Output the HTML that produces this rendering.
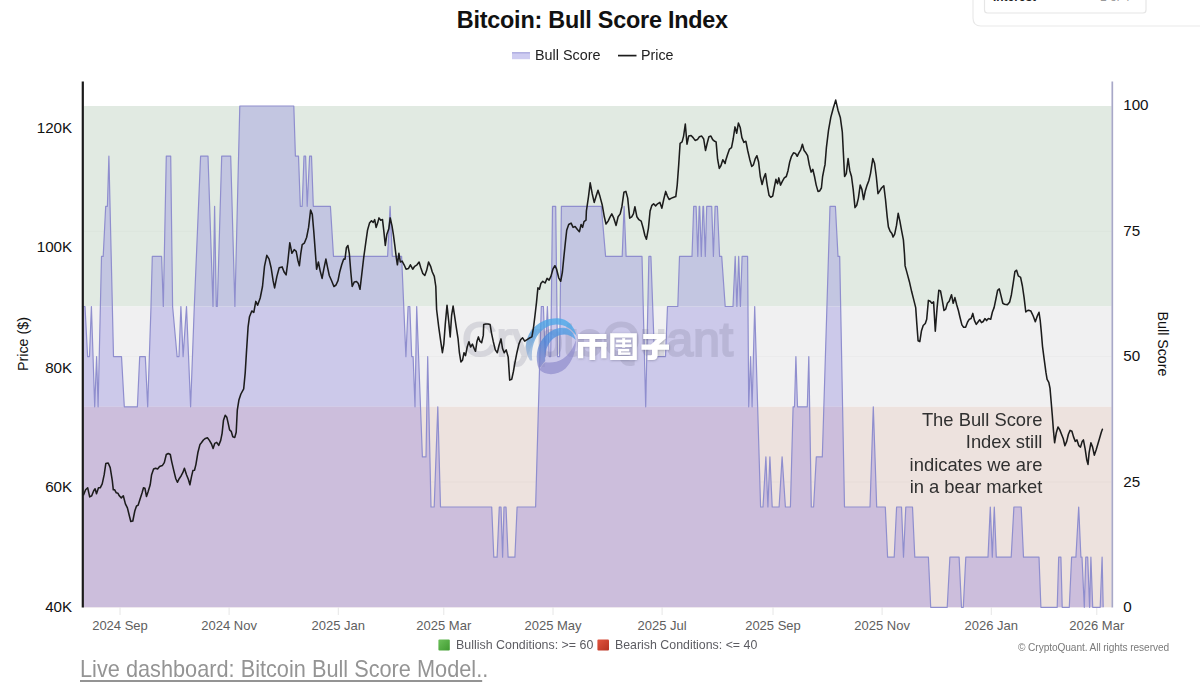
<!DOCTYPE html><html><head><meta charset="utf-8"><title>Bitcoin: Bull Score Index</title><style>
html,body{margin:0;padding:0;background:#fff;}
body{width:1200px;height:694px;position:relative;overflow:hidden;font-family:"Liberation Sans",sans-serif;}
.t{position:absolute;white-space:nowrap;line-height:1;color:#111;}
.yl{font-size:15.2px;text-align:right;width:60px;left:12.2px;}
.yr{font-size:15.2px;left:1123.2px;}
.xl{font-size:13px;color:#5e5e5e;transform:translateX(-50%);top:619.3px;}
</style></head><body>
<svg width="1200" height="694" viewBox="0 0 1200 694" style="position:absolute;left:0;top:0">
<path d="M973,0 V18 Q973,26 981,26 H1200" fill="none" stroke="#e9e9e9" stroke-width="1.2"/>
<path d="M984.5,0 V10 Q984.5,13 987.5,13 H1143 Q1146,13 1146,10 V0" fill="none" stroke="#e6e6e6" stroke-width="1.2"/>
<rect x="83.8" y="106.0" width="1027.8" height="200.5" fill="#e1eae2"/>
<rect x="83.8" y="306.5" width="1027.8" height="100.3" fill="#f0f0f1"/>
<rect x="83.8" y="406.8" width="1027.8" height="200.5" fill="#ede2de"/>
<line x1="83.8" x2="1111.6" y1="482.0" y2="482.0" stroke="#000" stroke-opacity="0.022" stroke-width="1"/>
<line x1="83.8" x2="1111.6" y1="356.6" y2="356.6" stroke="#000" stroke-opacity="0.022" stroke-width="1"/>
<line x1="83.8" x2="1111.6" y1="231.3" y2="231.3" stroke="#000" stroke-opacity="0.022" stroke-width="1"/>
<line x1="120" x2="120" y1="607.5" y2="615" stroke="#e6e6e6" stroke-width="1"/>
<line x1="229.1" x2="229.1" y1="607.5" y2="615" stroke="#e6e6e6" stroke-width="1"/>
<line x1="338.3" x2="338.3" y1="607.5" y2="615" stroke="#e6e6e6" stroke-width="1"/>
<line x1="443.8" x2="443.8" y1="607.5" y2="615" stroke="#e6e6e6" stroke-width="1"/>
<line x1="553" x2="553" y1="607.5" y2="615" stroke="#e6e6e6" stroke-width="1"/>
<line x1="662.1" x2="662.1" y1="607.5" y2="615" stroke="#e6e6e6" stroke-width="1"/>
<line x1="773" x2="773" y1="607.5" y2="615" stroke="#e6e6e6" stroke-width="1"/>
<line x1="882.1" x2="882.1" y1="607.5" y2="615" stroke="#e6e6e6" stroke-width="1"/>
<line x1="991.3" x2="991.3" y1="607.5" y2="615" stroke="#e6e6e6" stroke-width="1"/>
<line x1="1096.8" x2="1096.8" y1="607.5" y2="615" stroke="#e6e6e6" stroke-width="1"/>
<clipPath id="bc"><path d="M83.5,306.5 L85.0,306.5 L87.6,356.6 L89.5,356.6 L91.4,306.5 L94.7,406.8 L96.6,356.6 L98.1,406.8 L101.5,256.4 L103.2,256.4 L105.7,206.3 L107.4,206.3 L108.9,156.1 L113.5,356.6 L121.5,356.6 L124.3,406.8 L137.4,406.8 L139.7,356.6 L145.3,356.6 L147.7,406.8 L151.0,306.5 L152.3,256.4 L161.6,256.4 L163.3,306.5 L166.3,156.1 L170.7,156.1 L172.6,306.5 L177.1,356.6 L179.0,356.6 L180.9,306.5 L183.1,356.6 L186.5,306.5 L190.6,406.8 L194.3,306.5 L200.6,156.1 L208.0,156.1 L213.0,306.5 L214.6,206.3 L216.3,306.5 L217.3,306.5 L221.7,156.1 L230.7,156.1 L234.9,306.5 L239.8,106.0 L293.8,106.0 L295.4,156.1 L298.5,156.1 L300.3,206.3 L302.2,206.3 L304.0,156.1 L305.6,156.1 L307.2,206.3 L309.6,156.1 L311.5,156.1 L313.3,206.3 L330.4,206.3 L333.5,256.4 L387.6,256.4 L390.1,206.3 L392.3,256.4 L401.6,256.4 L405.9,356.6 L408.1,306.5 L409.8,306.5 L411.7,356.6 L413.1,356.6 L415.0,406.8 L416.7,306.5 L422.4,456.9 L426.0,456.9 L427.7,356.6 L431.0,507.0 L434.2,507.0 L437.8,406.8 L440.5,507.0 L491.7,507.0 L493.8,557.2 L497.1,557.2 L499.3,507.0 L501.0,507.0 L502.6,557.2 L504.0,507.0 L506.0,507.0 L508.1,557.2 L514.9,557.2 L517.1,507.0 L535.6,507.0 L541.3,306.5 L543.4,306.5 L545.2,356.6 L547.4,306.5 L549.2,356.6 L550.7,356.6 L552.5,206.3 L555.7,206.3 L557.5,356.6 L559.6,356.6 L561.4,206.3 L601.3,206.3 L605.6,256.4 L622.2,256.4 L624.1,206.3 L626.1,256.4 L642.0,256.4 L645.7,406.8 L648.9,256.4 L650.9,256.4 L654.5,356.6 L665.5,356.6 L667.5,306.5 L677.8,306.5 L679.5,256.4 L692.0,256.4 L693.7,206.3 L696.1,206.3 L697.8,256.4 L699.2,206.3 L699.7,206.3 L701.3,256.4 L703.0,206.3 L703.5,206.3 L705.3,256.4 L706.7,206.3 L711.7,206.3 L713.4,256.4 L715.1,206.3 L717.4,206.3 L719.6,256.4 L721.7,256.4 L725.2,306.5 L733.0,306.5 L735.2,256.4 L736.9,306.5 L738.7,256.4 L740.4,306.5 L742.1,256.4 L747.6,256.4 L748.7,406.8 L750.6,356.6 L752.1,406.8 L754.7,306.5 L760.6,507.0 L763.0,507.0 L765.9,456.9 L767.9,507.0 L769.9,456.9 L772.2,507.0 L779.1,507.0 L782.1,456.9 L785.4,507.0 L790.4,507.0 L793.1,406.8 L794.5,406.8 L795.9,356.6 L797.5,406.8 L807.3,406.8 L808.8,356.6 L811.3,507.0 L813.6,507.0 L816.3,456.9 L822.3,456.9 L830.0,206.3 L835.4,206.3 L838.0,256.4 L839.7,256.4 L844.5,507.0 L870.0,507.0 L873.3,406.8 L876.7,507.0 L885.3,507.0 L887.6,557.2 L894.2,557.2 L896.6,507.0 L901.5,507.0 L903.5,557.2 L905.8,507.0 L912.5,507.0 L914.8,557.2 L928.4,557.2 L930.7,607.3 L947.2,607.3 L949.9,557.2 L959.1,557.2 L961.5,607.3 L963.3,607.3 L965.8,557.2 L988.0,557.2 L990.3,507.0 L992.3,557.2 L994.3,507.0 L996.3,557.2 L1011.2,557.2 L1013.9,507.0 L1021.2,507.0 L1023.5,557.2 L1039.0,557.2 L1040.9,607.3 L1057.2,607.3 L1058.7,557.2 L1060.9,557.2 L1062.2,607.3 L1069.3,607.3 L1071.6,557.2 L1075.9,557.2 L1078.7,507.0 L1080.9,557.2 L1082.0,557.2 L1084.3,607.3 L1085.8,557.2 L1087.7,557.2 L1089.6,607.3 L1090.9,557.2 L1092.7,607.3 L1100.2,607.3 L1102.1,557.2 L1103.2,607.3 L1103.2,607.3 L83.5,607.3 Z"/></clipPath>
<g clip-path="url(#bc)">
<rect x="80" y="104.0" width="1040" height="202.5" fill="rgb(195,198,225)"/>
<rect x="80" y="306.5" width="1040" height="100.3" fill="rgb(204,201,234)"/>
<rect x="80" y="406.8" width="1040" height="201.5" fill="rgb(204,190,220)"/>
</g>
<path d="M83.5,306.5 L85.0,306.5 L87.6,356.6 L89.5,356.6 L91.4,306.5 L94.7,406.8 L96.6,356.6 L98.1,406.8 L101.5,256.4 L103.2,256.4 L105.7,206.3 L107.4,206.3 L108.9,156.1 L113.5,356.6 L121.5,356.6 L124.3,406.8 L137.4,406.8 L139.7,356.6 L145.3,356.6 L147.7,406.8 L151.0,306.5 L152.3,256.4 L161.6,256.4 L163.3,306.5 L166.3,156.1 L170.7,156.1 L172.6,306.5 L177.1,356.6 L179.0,356.6 L180.9,306.5 L183.1,356.6 L186.5,306.5 L190.6,406.8 L194.3,306.5 L200.6,156.1 L208.0,156.1 L213.0,306.5 L214.6,206.3 L216.3,306.5 L217.3,306.5 L221.7,156.1 L230.7,156.1 L234.9,306.5 L239.8,106.0 L293.8,106.0 L295.4,156.1 L298.5,156.1 L300.3,206.3 L302.2,206.3 L304.0,156.1 L305.6,156.1 L307.2,206.3 L309.6,156.1 L311.5,156.1 L313.3,206.3 L330.4,206.3 L333.5,256.4 L387.6,256.4 L390.1,206.3 L392.3,256.4 L401.6,256.4 L405.9,356.6 L408.1,306.5 L409.8,306.5 L411.7,356.6 L413.1,356.6 L415.0,406.8 L416.7,306.5 L422.4,456.9 L426.0,456.9 L427.7,356.6 L431.0,507.0 L434.2,507.0 L437.8,406.8 L440.5,507.0 L491.7,507.0 L493.8,557.2 L497.1,557.2 L499.3,507.0 L501.0,507.0 L502.6,557.2 L504.0,507.0 L506.0,507.0 L508.1,557.2 L514.9,557.2 L517.1,507.0 L535.6,507.0 L541.3,306.5 L543.4,306.5 L545.2,356.6 L547.4,306.5 L549.2,356.6 L550.7,356.6 L552.5,206.3 L555.7,206.3 L557.5,356.6 L559.6,356.6 L561.4,206.3 L601.3,206.3 L605.6,256.4 L622.2,256.4 L624.1,206.3 L626.1,256.4 L642.0,256.4 L645.7,406.8 L648.9,256.4 L650.9,256.4 L654.5,356.6 L665.5,356.6 L667.5,306.5 L677.8,306.5 L679.5,256.4 L692.0,256.4 L693.7,206.3 L696.1,206.3 L697.8,256.4 L699.2,206.3 L699.7,206.3 L701.3,256.4 L703.0,206.3 L703.5,206.3 L705.3,256.4 L706.7,206.3 L711.7,206.3 L713.4,256.4 L715.1,206.3 L717.4,206.3 L719.6,256.4 L721.7,256.4 L725.2,306.5 L733.0,306.5 L735.2,256.4 L736.9,306.5 L738.7,256.4 L740.4,306.5 L742.1,256.4 L747.6,256.4 L748.7,406.8 L750.6,356.6 L752.1,406.8 L754.7,306.5 L760.6,507.0 L763.0,507.0 L765.9,456.9 L767.9,507.0 L769.9,456.9 L772.2,507.0 L779.1,507.0 L782.1,456.9 L785.4,507.0 L790.4,507.0 L793.1,406.8 L794.5,406.8 L795.9,356.6 L797.5,406.8 L807.3,406.8 L808.8,356.6 L811.3,507.0 L813.6,507.0 L816.3,456.9 L822.3,456.9 L830.0,206.3 L835.4,206.3 L838.0,256.4 L839.7,256.4 L844.5,507.0 L870.0,507.0 L873.3,406.8 L876.7,507.0 L885.3,507.0 L887.6,557.2 L894.2,557.2 L896.6,507.0 L901.5,507.0 L903.5,557.2 L905.8,507.0 L912.5,507.0 L914.8,557.2 L928.4,557.2 L930.7,607.3 L947.2,607.3 L949.9,557.2 L959.1,557.2 L961.5,607.3 L963.3,607.3 L965.8,557.2 L988.0,557.2 L990.3,507.0 L992.3,557.2 L994.3,507.0 L996.3,557.2 L1011.2,557.2 L1013.9,507.0 L1021.2,507.0 L1023.5,557.2 L1039.0,557.2 L1040.9,607.3 L1057.2,607.3 L1058.7,557.2 L1060.9,557.2 L1062.2,607.3 L1069.3,607.3 L1071.6,557.2 L1075.9,557.2 L1078.7,507.0 L1080.9,557.2 L1082.0,557.2 L1084.3,607.3 L1085.8,557.2 L1087.7,557.2 L1089.6,607.3 L1090.9,557.2 L1092.7,607.3 L1100.2,607.3 L1102.1,557.2 L1103.2,607.3" fill="none" stroke="rgb(143,142,206)" stroke-width="1.2" stroke-linejoin="round"/>
<g opacity="0.17"><text x="462" y="356" font-family="Liberation Sans, sans-serif" font-size="48" fill="#5e5e78" stroke="#5e5e78" stroke-width="2.2" textLength="271" lengthAdjust="spacingAndGlyphs">CryptoQuant</text></g>
<defs>
<linearGradient id="g1" x1="0.8" y1="0" x2="0.1" y2="1"><stop offset="0" stop-color="#45a9ec"/><stop offset="0.55" stop-color="#4f9fe0"/><stop offset="1" stop-color="#8aa6d2" stop-opacity="0.75"/></linearGradient>
<linearGradient id="g2" x1="0.8" y1="0" x2="0.1" y2="1"><stop offset="0" stop-color="#4aa2ea"/><stop offset="0.5" stop-color="#4a86d8"/><stop offset="1" stop-color="#8c88cc"/></linearGradient>
</defs>
<g id="logo" opacity="0.82">
<path d="M530,360.5 C523.5,350 525.5,338 531,331 C538,321.5 548,318 558,318.3 C567.5,318.8 574.5,326 576.8,336.5 C572,329 565,324.5 556,324.6 C547,325 539,331 535,340 C532,347 531.3,354 532.3,360.5 Z" fill="url(#g1)" fill-opacity="0.93"/>
<path d="M539,369.5 C534.8,358 536.8,346 543,338.5 C549,331 557,327 564,327.8 C570.5,328.6 574.5,334 575.8,340 C571.5,335.2 566,333.4 560,335 C553,337 548,343 546,351 C545,355 545,358 545.3,361 C543,363 541,366.5 539,369.5 Z" fill="url(#g2)" fill-opacity="0.9"/>
<path d="M539.5,369.8 C545,375.6 557,376 565.5,368.5 C572.5,361.5 576.5,350 575.8,340 C573.5,348 569,354.5 563,358.8 C557,362.8 550,363 545.3,362.2 C543,364 541,367 539.5,369.8 Z" fill="#8e8bcb" fill-opacity="0.85"/>
</g>
<path d="M83.6,494.8 L85.6,489.8 L87.7,487.8 L89.7,496.9 L91.7,495.8 L93.7,490.8 L95.1,488.8 L96.5,493.8 L98.5,487.8 L100.2,487.8 L102.2,483.8 L104.2,474.7 L105.8,463.6 L108.2,463.0 L110.2,467.6 L112.3,480.7 L113.3,489.8 L114.7,489.8 L116.3,492.8 L117.9,493.2 L119.3,495.8 L121.3,497.9 L123.3,495.8 L125.4,503.9 L127.4,507.9 L129.4,516.0 L130.8,521.5 L132.8,521.0 L134.8,511.0 L136.5,505.9 L138.1,505.3 L140.1,498.9 L142.1,492.8 L143.5,487.8 L144.9,488.2 L146.5,496.5 L148.1,491.8 L150.2,484.8 L151.6,474.7 L153.6,469.0 L155.6,468.2 L157.6,469.0 L159.6,466.6 L162.3,465.6 L164.3,462.6 L166.3,454.5 L168.3,453.5 L170.3,454.5 L171.7,461.6 L173.8,470.6 L175.8,478.7 L177.4,482.3 L179.2,478.7 L181.2,475.7 L182.8,472.7 L184.4,468.2 L186.5,474.7 L188.5,479.7 L189.9,484.8 L191.5,476.7 L192.9,470.6 L194.5,470.2 L195.9,464.6 L197.9,452.5 L200.0,444.4 L201.4,442.8 L203.4,440.0 L205.4,438.4 L207.4,437.8 L209.4,440.4 L211.5,444.0 L213.1,448.5 L214.7,443.4 L216.7,442.4 L218.7,445.4 L220.7,440.4 L222.1,433.3 L223.5,420.2 L225.2,415.2 L226.8,417.2 L228.2,423.3 L229.6,429.9 L231.2,431.3 L232.8,436.8 L234.8,437.4 L236.2,432.3 L237.3,410.2 L238.9,400.1 L240.9,394.0 L243.7,388.8 L245.2,372.9 L246.6,349.9 L248.1,326.8 L249.5,316.7 L251.8,311.0 L253.8,312.4 L255.8,301.4 L257.6,305.2 L260.2,298.0 L262.5,286.5 L264.5,266.3 L266.8,255.3 L269.1,259.1 L271.1,267.7 L273.1,280.7 L274.6,287.9 L276.9,276.4 L279.2,267.7 L282.1,266.9 L284.1,272.0 L286.1,274.9 L287.8,262.0 L289.8,242.7 L291.9,253.3 L294.2,249.6 L296.2,251.3 L297.9,260.5 L299.4,265.7 L300.8,253.3 L302.2,244.7 L304.3,243.2 L306.6,237.5 L308.6,227.4 L310.6,210.1 L312.3,214.4 L313.8,231.7 L315.2,250.4 L316.6,269.2 L318.4,262.0 L320.1,270.6 L322.1,278.4 L323.8,269.2 L325.9,259.1 L327.6,267.7 L329.3,275.5 L331.6,280.7 L333.9,286.5 L336.0,285.0 L338.0,280.7 L339.7,272.0 L341.7,264.8 L343.7,259.1 L345.0,259.1 L346.4,247.6 L347.9,245.5 L349.3,253.3 L350.8,272.0 L352.2,286.5 L354.2,282.1 L356.5,281.6 L358.3,283.6 L360.0,289.3 L361.7,274.9 L363.7,257.6 L365.7,243.2 L367.5,230.3 L369.5,223.1 L371.5,220.7 L373.2,222.5 L374.7,219.6 L376.1,227.4 L377.6,223.1 L379.0,217.9 L380.7,220.2 L382.5,219.6 L383.9,231.7 L385.3,245.5 L386.8,234.6 L388.8,228.8 L390.2,217.9 L392.0,225.9 L393.4,234.6 L394.9,246.1 L396.3,257.6 L397.4,264.8 L398.9,253.3 L400.3,262.0 L402.1,261.1 L404.1,264.8 L406.1,269.2 L408.4,268.6 L410.4,264.8 L412.7,269.2 L414.7,266.3 L417.0,264.8 L419.1,262.0 L420.8,267.7 L422.8,273.5 L424.8,275.5 L426.6,270.6 L428.6,262.0 L430.6,266.3 L432.3,272.0 L434.3,276.4 L435.8,286.5 L436.6,309.5 L438.7,326.8 L440.7,341.2 L442.4,352.7 L443.8,344.1 L445.3,323.9 L447.0,305.2 L448.7,321.0 L450.2,336.9 L451.6,315.3 L453.1,306.1 L454.5,315.3 L456.2,326.8 L458.0,338.3 L459.4,352.7 L460.9,362.0 L462.6,359.9 L464.0,352.7 L465.5,355.6 L467.2,347.0 L468.9,341.8 L470.6,347.0 L472.4,344.1 L474.1,348.4 L475.5,351.3 L477.0,341.2 L478.4,336.9 L479.9,341.2 L481.6,342.7 L483.3,335.4 L483.7,324.5 L485.7,323.9 L488.1,323.9 L490.1,324.5 L491.5,333.1 L493.2,341.2 L495.3,349.9 L497.3,352.7 L499.0,345.5 L501.0,338.9 L502.5,348.4 L504.2,352.7 L506.2,349.9 L508.2,357.1 L509.7,380.1 L511.7,379.3 L513.4,371.5 L514.9,362.8 L516.9,352.7 L518.9,344.1 L520.6,339.8 L522.6,337.8 L524.7,341.2 L526.7,339.8 L529.0,338.3 L531.9,336.9 L533.6,326.8 L535.0,315.3 L536.5,302.3 L537.9,287.9 L539.4,289.3 L540.8,283.6 L542.8,281.3 L545.1,283.0 L547.1,278.4 L549.1,280.1 L550.9,276.4 L552.9,269.2 L554.9,265.7 L556.6,269.2 L558.7,277.8 L560.7,281.3 L562.4,272.0 L563.8,257.6 L565.3,243.2 L566.7,230.3 L568.7,224.5 L571.1,223.1 L573.1,227.4 L575.1,226.5 L577.4,229.4 L579.4,231.7 L581.1,224.5 L582.6,227.4 L584.0,221.6 L586.0,220.2 L586.4,211.0 L588.5,196.6 L590.2,182.8 L592.2,193.7 L594.2,202.4 L596.0,196.6 L598.0,190.3 L600.0,196.6 L602.3,205.3 L604.3,216.8 L606.0,224.0 L608.1,221.1 L610.1,216.8 L611.8,213.9 L613.8,218.2 L616.1,225.4 L618.1,216.8 L620.2,213.9 L621.9,206.7 L623.9,192.3 L625.9,191.4 L627.7,198.1 L629.7,218.2 L631.7,216.8 L633.4,213.9 L634.9,206.7 L636.9,216.8 L638.9,219.7 L641.2,221.1 L643.2,228.3 L644.9,235.5 L646.4,239.3 L648.4,228.3 L650.1,211.0 L651.9,205.3 L653.6,203.8 L655.6,205.9 L657.6,203.8 L659.9,202.4 L661.9,208.2 L663.7,199.5 L665.7,191.4 L667.4,196.1 L669.1,199.5 L671.5,198.1 L673.8,197.2 L675.8,196.6 L677.2,185.1 L678.7,164.9 L680.1,143.3 L682.1,141.9 L683.6,136.1 L685.3,124.0 L687.0,144.2 L688.7,136.1 L691.1,135.5 L693.1,137.6 L695.1,140.4 L697.4,139.6 L699.4,136.7 L701.7,136.1 L703.7,139.0 L705.5,150.5 L707.2,143.3 L708.9,136.7 L710.9,136.1 L712.7,139.6 L714.7,141.3 L716.1,141.9 L717.6,159.2 L719.3,168.4 L721.0,165.5 L722.8,159.7 L725.1,163.5 L725.7,160.6 L727.5,154.8 L729.5,149.1 L731.5,147.6 L733.2,139.0 L735.0,126.9 L736.7,133.2 L738.4,123.1 L740.2,127.5 L741.9,137.6 L743.9,142.4 L745.9,141.3 L747.7,150.5 L749.7,159.2 L751.7,166.4 L753.4,164.9 L755.1,159.2 L756.9,155.7 L758.6,162.0 L760.3,176.5 L762.1,184.5 L763.8,177.9 L765.5,173.6 L767.2,185.1 L769.0,195.2 L770.7,197.2 L772.7,196.1 L774.2,188.0 L775.9,179.3 L777.6,183.7 L778.8,177.9 L780.5,185.1 L782.2,181.6 L784.3,177.9 L786.3,176.5 L788.0,170.7 L789.7,162.0 L791.5,156.3 L793.5,152.8 L795.5,153.4 L797.2,156.3 L798.9,152.8 L800.7,149.9 L802.4,144.2 L804.1,150.5 L805.9,152.8 L807.6,155.7 L809.3,164.9 L811.1,172.1 L812.8,169.3 L814.5,176.5 L816.2,185.1 L818.0,191.4 L819.7,190.9 L821.4,188.0 L822.6,176.5 L824.3,167.8 L825.0,164.9 L826.4,147.6 L828.5,130.3 L830.8,117.4 L833.1,108.7 L835.7,100.1 L838.0,110.2 L840.3,117.4 L842.3,131.8 L843.4,153.4 L844.6,176.5 L846.3,173.6 L848.1,158.6 L849.8,170.7 L851.5,176.5 L853.2,189.4 L855.0,207.6 L856.7,205.3 L858.4,198.1 L860.2,185.1 L861.9,189.4 L863.6,199.5 L865.3,190.9 L867.1,185.1 L868.8,180.8 L870.5,173.6 L872.8,158.6 L874.6,163.5 L876.3,176.5 L878.0,193.7 L879.8,190.9 L881.5,188.0 L883.8,185.7 L885.5,199.5 L887.2,216.8 L888.4,226.9 L890.1,231.2 L891.9,233.5 L893.0,237.0 L894.7,234.1 L896.5,225.4 L898.2,213.3 L899.9,221.1 L901.7,231.2 L903.4,239.9 L904.5,254.3 L905.1,265.9 L907.1,273.1 L909.4,281.7 L911.7,291.8 L913.7,299.6 L915.7,307.6 L916.9,324.9 L918.1,340.8 L919.8,341.6 L921.5,330.7 L923.2,325.5 L925.3,323.5 L926.7,319.2 L928.4,300.4 L930.2,301.3 L931.9,303.3 L933.6,301.9 L935.3,331.3 L937.1,307.6 L938.8,290.3 L940.5,290.9 L942.3,300.4 L944.0,310.5 L945.7,309.1 L947.4,303.3 L949.2,301.3 L951.5,294.7 L953.2,303.3 L954.9,297.6 L956.7,304.8 L958.4,310.5 L960.1,317.7 L961.9,324.9 L963.6,327.2 L965.6,327.2 L967.6,322.0 L969.4,319.2 L971.1,318.6 L972.8,313.4 L974.5,320.6 L976.3,324.4 L978.0,322.0 L979.7,319.7 L981.5,322.6 L983.2,321.5 L984.9,318.6 L986.6,320.6 L988.4,318.6 L990.7,319.2 L992.4,312.0 L994.1,307.6 L995.9,299.0 L997.6,290.3 L999.3,288.9 L1001.1,296.1 L1002.8,303.3 L1004.5,304.2 L1007.4,304.8 L1009.7,301.9 L1011.4,294.7 L1013.2,283.1 L1014.9,271.6 L1016.6,270.2 L1018.3,275.9 L1020.6,277.4 L1022.4,286.0 L1024.1,297.6 L1025.8,312.0 L1027.6,310.5 L1028.6,310.3 L1030.9,311.1 L1033.2,316.0 L1035.3,321.8 L1037.3,316.0 L1039.0,312.3 L1040.2,320.3 L1041.3,331.9 L1042.5,346.3 L1044.2,359.3 L1045.9,372.2 L1047.1,379.4 L1048.8,382.3 L1050.0,388.1 L1051.1,401.0 L1052.3,415.4 L1053.4,429.9 L1054.6,442.8 L1056.3,432.7 L1058.0,427.0 L1059.8,429.9 L1061.5,434.2 L1063.2,438.5 L1064.9,445.7 L1066.7,441.4 L1068.4,434.2 L1070.1,430.4 L1071.9,431.3 L1073.6,437.1 L1075.3,441.4 L1077.0,439.9 L1078.8,445.7 L1080.5,447.1 L1082.2,441.4 L1083.4,439.9 L1085.1,448.6 L1086.8,460.1 L1088.0,464.4 L1089.1,452.9 L1090.9,442.8 L1092.6,447.1 L1094.3,455.2 L1096.1,450.0 L1097.8,444.3 L1099.5,438.5 L1101.3,432.2 L1102.4,429.3" fill="none" stroke="#1c1c1c" stroke-width="1.55" stroke-linejoin="round" stroke-linecap="round"/>
<line x1="82.8" x2="82.8" y1="81.5" y2="607.5" stroke="#1a1a1a" stroke-width="2.2"/>
<line x1="1112.3" x2="1112.3" y1="81.5" y2="607.5" stroke="#a8a8c8" stroke-width="1.7"/>
<defs><filter id="sh" x="-10%" y="-20%" width="120%" height="140%"><feDropShadow dx="0.4" dy="0.6" stdDeviation="0.9" flood-color="#555570" flood-opacity="0.45"/></filter></defs>
<g id="cjk" fill="#ffffff" stroke="none" filter="url(#sh)">
<rect x="578" y="334" width="28.4" height="5"/>
<rect x="578" y="342" width="5.2" height="16.2"/>
<rect x="578" y="342" width="28.4" height="4.8"/>
<rect x="601.2" y="342" width="5.2" height="16.2"/>
<rect x="589.5" y="334" width="5.6" height="26"/>
<path d="M610.2,333.3 H636.8 V360 H610.2 Z M614.4,337.4 V355.9 H632.6 V337.4 Z" fill-rule="evenodd"/>
<rect x="616.2" y="339.8" width="14.8" height="2.6"/>
<rect x="615.6" y="344.4" width="16" height="2.6"/>
<rect x="618.2" y="349" width="11" height="2.4"/>
<rect x="618.2" y="349" width="2.8" height="5.6"/>
<rect x="618.2" y="352.4" width="12.2" height="2.4"/>
<rect x="622.2" y="338.2" width="2.9" height="9.4"/>
<path d="M643.2,334 H665.6 V338.6 L658.6,344.6 H669 V349.8 H657.6 V355 Q657.6,360 652.4,360 H647.6 V355.2 H651 Q652,355.2 652,354.2 V349.8 H641.5 V344.6 H651 L657.2,339 H643.2 Z"/>
</g>
<rect x="512" y="52.8" width="18" height="6.4" fill="rgb(147,142,224)" fill-opacity="0.45"/>
<line x1="512" x2="530" y1="52.8" y2="52.8" stroke="rgb(150,148,214)" stroke-width="1"/>
<line x1="618" x2="636.5" y1="55.6" y2="55.6" stroke="#1c1c1c" stroke-width="1.7"/>
<linearGradient id="gg" x1="0" y1="0" x2="1" y2="1"><stop offset="0" stop-color="#6cc05a"/><stop offset="1" stop-color="#3f9a30"/></linearGradient><linearGradient id="gr" x1="0" y1="0" x2="1" y2="1"><stop offset="0" stop-color="#e2553f"/><stop offset="1" stop-color="#b53222"/></linearGradient>
<rect x="438.4" y="639.5" width="11.4" height="11" rx="1" fill="url(#gg)"/>
<rect x="597.4" y="639.5" width="11.6" height="11" rx="1" fill="url(#gr)"/>
</svg>
<div class="t" id="title" style="left:456.8px;top:9.1px;font-size:23.4px;font-weight:bold;letter-spacing:-0.23px;">Bitcoin: Bull Score Index</div>
<div class="t" id="c1" style="left:993px;top:-8.4px;font-size:11.9px;font-weight:bold;color:#222;">Interest</div>
<div class="t" id="c2" style="left:1100px;top:-8.4px;font-size:11.9px;color:#9a9a9a;">1 of 4</div>
<div class="t" id="lg1" style="left:534.5px;top:46.6px;font-size:15.2px;color:#222;transform:scaleX(0.946);transform-origin:left center;">Bull Score</div>
<div class="t" id="lg2" style="left:640.5px;top:46.6px;font-size:15.2px;color:#222;transform:scaleX(0.94);transform-origin:left center;">Price</div>
<div class="t yl" style="top:119.9px;">120K</div>
<div class="t yl" style="top:239.3px;">100K</div>
<div class="t yl" style="top:359.7px;">80K</div>
<div class="t yl" style="top:479.3px;">60K</div>
<div class="t yl" style="top:599.1px;">40K</div>
<div class="t yr" style="top:97.1px;">100</div>
<div class="t yr" style="top:222.6px;">75</div>
<div class="t yr" style="top:348.3px;">50</div>
<div class="t yr" style="top:473.5px;">25</div>
<div class="t yr" style="top:598.8px;">0</div>
<div class="t xl" style="left:120px;">2024 Sep</div>
<div class="t xl" style="left:229.1px;">2024 Nov</div>
<div class="t xl" style="left:338.3px;">2025 Jan</div>
<div class="t xl" style="left:443.8px;">2025 Mar</div>
<div class="t xl" style="left:553px;">2025 May</div>
<div class="t xl" style="left:662.1px;">2025 Jul</div>
<div class="t xl" style="left:773px;">2025 Sep</div>
<div class="t xl" style="left:882.1px;">2025 Nov</div>
<div class="t xl" style="left:991.3px;">2026 Jan</div>
<div class="t xl" style="left:1096.8px;">2026 Mar</div>
<div class="t" id="ylt" style="left:22.6px;top:344px;font-size:15.4px;transform:translate(-50%,-50%) rotate(-90deg) scaleX(0.93);">Price ($)</div>
<div class="t" id="yrt" style="left:1163.4px;top:344.3px;font-size:15.4px;transform:translate(-50%,-50%) rotate(90deg) scaleX(0.925);">Bull Score</div>
<div class="t" id="bl1" style="left:456px;top:639.1px;font-size:12.8px;color:#5c5c62;transform:scaleX(0.97);transform-origin:left center;">Bullish Conditions: &gt;= 60</div>
<div class="t" id="bl2" style="left:615px;top:639.1px;font-size:12.8px;color:#5c5c62;transform:scaleX(0.966);transform-origin:left center;">Bearish Conditions: &lt;= 40</div>
<div class="t" id="copy" style="left:1018.3px;top:642.3px;font-size:10.6px;color:#7a7a7a;letter-spacing:-0.1px;transform:scaleX(0.959);transform-origin:left center;">&copy; CryptoQuant. All rights reserved</div>
<div class="t" id="live" style="left:79.5px;top:657.6px;font-size:23.2px;color:#949494;transform:scaleX(0.937);transform-origin:left center;"><span style="text-decoration:underline;text-decoration-thickness:1.6px;text-underline-offset:2.5px;">Live dashboard: Bitcoin Bull Score Model.</span>.</div>
<div class="t" id="ann" style="right:158px;top:409px;font-size:18.6px;line-height:22.4px;text-align:right;color:#303030;transform:scaleX(0.988);transform-origin:right center;">The Bull Score<br>Index still<br>indicates we are<br>in a bear market</div>
</body></html>
